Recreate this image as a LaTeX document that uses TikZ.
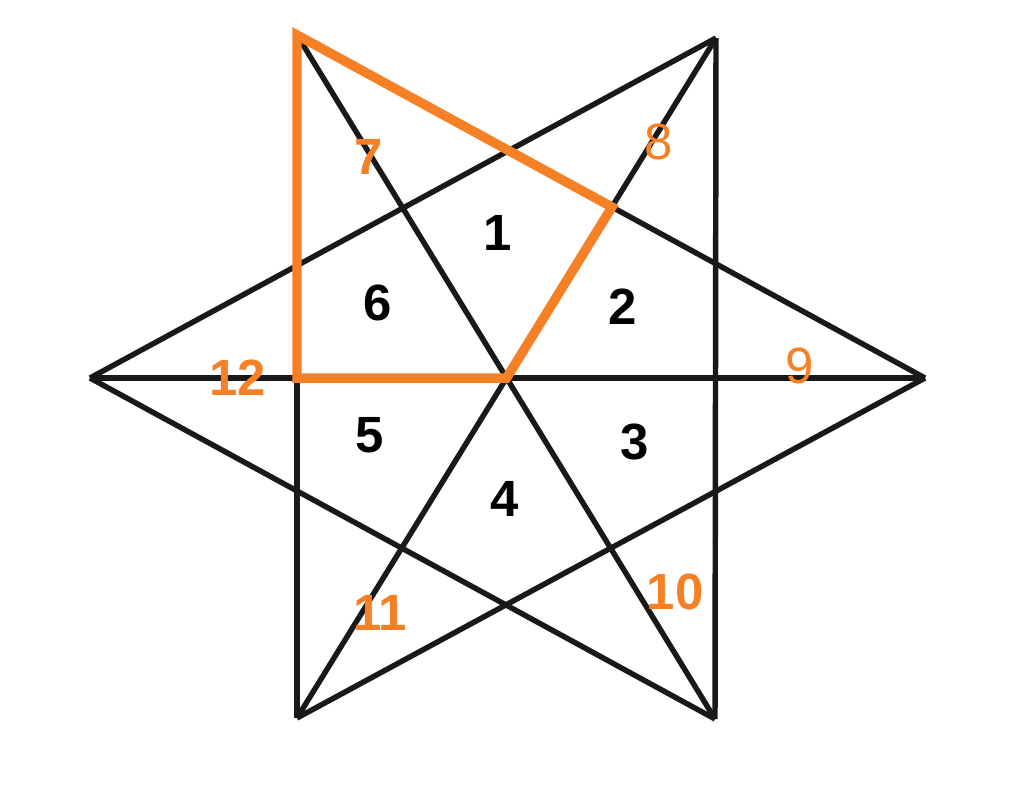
\documentclass[tikz,border=0pt]{standalone}
\usepackage{fontspec}
\setmainfont{Liberation Sans}
\definecolor{hiorange}{RGB}{246,128,38}
\tikzset{
  starline/.style={line width=3.1pt, draw=black!90},
  hiline/.style={line width=5.4pt, draw=hiorange},
  region/.style={inner sep=0pt, font=\fontsize{29}{29}\selectfont\bfseries},
  outer/.style={region, text=hiorange},
  outerthin/.style={outer, font=\fontsize{29}{29}\selectfont},
}

\begin{document}
\begin{tikzpicture}[x=0.02cm,y=-0.02cm]
  \useasboundingbox (0,0) rectangle (1024,801);

  % star corners
  \coordinate (tl) at (297,35);
  \coordinate (tr) at (716,38);
  \coordinate (r)  at (925,378);
  \coordinate (br) at (715,719);
  \coordinate (bl) at (297,718);
  \coordinate (l)  at (90,378);

  % two triangles and the three long lines
  \foreach \a/\b in {tl/bl,bl/r,r/tl,tr/br,br/l,l/tr,tl/br,tr/bl,l/r}{
    \draw[starline] (\a) -- (\b);
  }

  % highlighted piece
  \coordinate (o) at (intersection of tr--bl and l--r);
  \coordinate (q) at (intersection of tl--r and tr--bl);
  \coordinate (p) at (tl |- o);
  \draw[hiline] (tl) -- (q) -- (o) -- (p) -- cycle;

  \node[region] (n1) at (498,233) {1};
  \node[region] (n2) at (623,307) {2};
  \node[region] (n3) at (635,442) {3};
  \node[region] (n4) at (505,499) {4};
  \node[region] (n5) at (370,435) {5};
  \node[region] (n6) at (378,303) {6};

  \node[outer] (n7) at (369,157) {7};
  \node[outerthin] (n8) at (659,142) {8};
  \node[outerthin] (n9) at (800,366) {9};
  \node[outer] (n10) at (675,592) {10};
  \node[outer] (n11) at (380,613) {11};
  \node[outer] (n12) at (238,378) {12};
\end{tikzpicture}
\end{document}
